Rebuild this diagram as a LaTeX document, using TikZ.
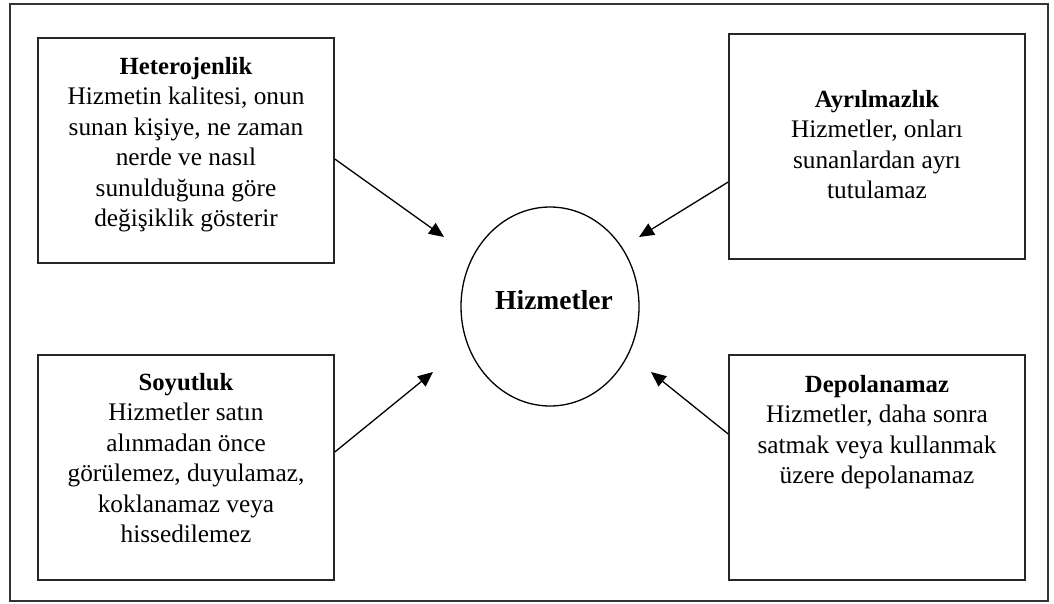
\documentclass[tikz,border=0pt]{standalone}
\usepackage{fontspec}
\setmainfont{Liberation Serif}
\usetikzlibrary{arrows.meta,shapes.geometric}
\begin{document}
\begin{tikzpicture}[x=1pt,y=-1pt,
  frame/.style={draw=black!80, line width=1.2pt},
  card/.style={draw=black!85, line width=1.6pt, minimum width=296pt,
    minimum height=225pt, inner sep=0pt},
  cardtext/.style={align=center, inner sep=0pt, anchor=north,
    font=\fontsize{25.3}{30.5}\selectfont},
  hub/.style={ellipse, draw=black, line width=1.3pt, minimum width=178pt,
    minimum height=199pt, inner sep=0pt},
  flow/.style={line width=1.3pt, draw=black,
    -{Triangle[length=15pt,width=13pt]}}
]
\newcommand{\cardtitle}[1]{{\bfseries\fontsize{24.7}{30.5}\selectfont #1}}
\useasboundingbox (0,0) rectangle (1054,603);
\draw[frame] (10,4) rectangle (1048,601);

% four property boxes
\node[card] (het) at (186,150.5) {};
\node[card] (ayr) at (877,146.5) {};
\node[card] (soy) at (186,467.5) {};
\node[card] (dep) at (877,467.5) {};

\node[cardtext] (hett) at (186,57) {\cardtitle{Heterojenlik}\\
  Hizmetin kalitesi, onun\\ sunan kişiye, ne zaman\\ nerde ve nasıl\\
  sunulduğuna göre\\ değişiklik gösterir};
\node[cardtext] (ayrt) at (877,90) {\cardtitle{Ayrılmazlık}\\
  Hizmetler, onları\\ sunanlardan ayrı\\ tutulamaz};
\node[cardtext] (soyt) at (186,373) {\cardtitle{Soyutluk}\\
  Hizmetler satın\\ alınmadan önce\\ görülemez, duyulamaz,\\
  koklanamaz veya\\ hissedilemez};
\node[cardtext] (dept) at (877,375) {\cardtitle{Depolanamaz}\\
  Hizmetler, daha sonra\\ satmak veya kullanmak\\ üzere depolanamaz};

% central concept
\node[hub] (hiz) at (550,306.5) {};
\node[font=\bfseries\fontsize{27.5}{30}\selectfont, inner sep=0pt]
  (hizt) at (554,300) {Hizmetler};

% arrow targets around the ellipse
\coordinate (pa) at (444,237);
\coordinate (pb) at (639,237);
\coordinate (pc) at (433,372);
\coordinate (pd) at (651,372);

\draw[flow] ([yshift=-8.5pt]het.east) -- (pa);
\draw[flow] ([yshift=-35.5pt]ayr.west) -- (pb);
\draw[flow] ([yshift=15.5pt]soy.east) -- (pc);
\draw[flow] ([yshift=33.5pt]dep.west) -- (pd);
\end{tikzpicture}
\end{document}
